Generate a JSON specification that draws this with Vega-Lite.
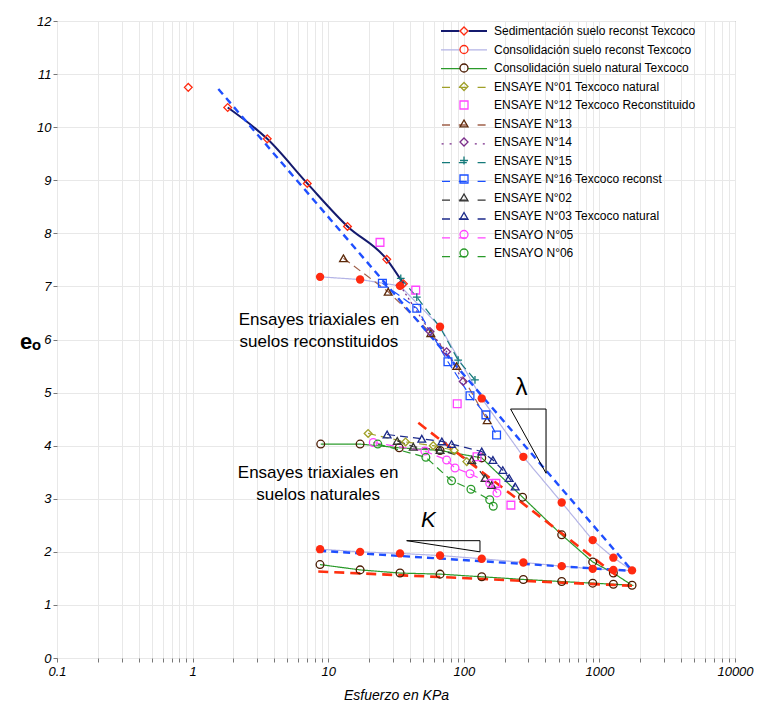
{
  "$schema": "https://vega.github.io/schema/vega-lite/v6.json",
  "width": 678,
  "height": 637,
  "autosize": {"type": "none"},
  "padding": {"left": 57, "top": 21, "right": 22, "bottom": 48},
  "config": {
    "font": "Liberation Sans",
    "view": {"stroke": "#7a7a7a", "strokeWidth": 1},
    "axis": {"labelFont": "Liberation Sans", "titleFont": "Liberation Sans", "labelColor": "#000", "titleColor": "#000"},
    "legend": {"labelFont": "Liberation Sans"}
  },
  "datasets": {
    "obs": [
      {"s": "Sedimentación suelo reconst Texcoco", "n": 1, "x": 0.929, "y": 10.75},
      {"s": "Sedimentación suelo reconst Texcoco", "n": 2, "x": 1.815, "y": 10.37},
      {"s": "Sedimentación suelo reconst Texcoco", "n": 3, "x": 3.551, "y": 9.78},
      {"s": "Sedimentación suelo reconst Texcoco", "n": 4, "x": 7.01, "y": 8.94},
      {"s": "Sedimentación suelo reconst Texcoco", "n": 5, "x": 13.88, "y": 8.13},
      {"s": "Sedimentación suelo reconst Texcoco", "n": 6, "x": 27.02, "y": 7.51},
      {"s": "Sedimentación suelo reconst Texcoco", "n": 7, "x": 35.86, "y": 7.05},
      {"s": "Consolidación suelo reconst Texcoco", "n": 1, "x": 8.71, "y": 7.18},
      {"s": "Consolidación suelo reconst Texcoco", "n": 2, "x": 17.19, "y": 7.13},
      {"s": "Consolidación suelo reconst Texcoco", "n": 3, "x": 33.86, "y": 7.01},
      {"s": "Consolidación suelo reconst Texcoco", "n": 4, "x": 66.8, "y": 6.24},
      {"s": "Consolidación suelo reconst Texcoco", "n": 5, "x": 135.6, "y": 4.89},
      {"s": "Consolidación suelo reconst Texcoco", "n": 6, "x": 274.9, "y": 3.79},
      {"s": "Consolidación suelo reconst Texcoco", "n": 7, "x": 527.2, "y": 2.93},
      {"s": "Consolidación suelo reconst Texcoco", "n": 8, "x": 892.6, "y": 2.22},
      {"s": "Consolidación suelo reconst Texcoco", "n": 9, "x": 1268, "y": 1.89},
      {"s": "Consolidación suelo reconst Texcoco", "n": 10, "x": 1741, "y": 1.65},
      {"s": "Consolidación suelo reconst Texcoco", "n": 11, "x": 1268, "y": 1.66},
      {"s": "Consolidación suelo reconst Texcoco", "n": 12, "x": 892.6, "y": 1.68},
      {"s": "Consolidación suelo reconst Texcoco", "n": 13, "x": 527.2, "y": 1.73},
      {"s": "Consolidación suelo reconst Texcoco", "n": 14, "x": 274.9, "y": 1.8},
      {"s": "Consolidación suelo reconst Texcoco", "n": 15, "x": 135.6, "y": 1.87},
      {"s": "Consolidación suelo reconst Texcoco", "n": 16, "x": 66.8, "y": 1.93},
      {"s": "Consolidación suelo reconst Texcoco", "n": 17, "x": 33.86, "y": 1.97},
      {"s": "Consolidación suelo reconst Texcoco", "n": 18, "x": 17.19, "y": 2.0},
      {"s": "Consolidación suelo reconst Texcoco", "n": 19, "x": 8.71, "y": 2.05},
      {"s": "Consolidación suelo natural Texcoco", "n": 1, "x": 8.81, "y": 4.03},
      {"s": "Consolidación suelo natural Texcoco", "n": 2, "x": 17.19, "y": 4.03},
      {"s": "Consolidación suelo natural Texcoco", "n": 3, "x": 33.4, "y": 3.96},
      {"s": "Consolidación suelo natural Texcoco", "n": 4, "x": 66.8, "y": 3.91},
      {"s": "Consolidación suelo natural Texcoco", "n": 5, "x": 135.6, "y": 3.77},
      {"s": "Consolidación suelo natural Texcoco", "n": 6, "x": 271.2, "y": 3.03},
      {"s": "Consolidación suelo natural Texcoco", "n": 7, "x": 527.2, "y": 2.32},
      {"s": "Consolidación suelo natural Texcoco", "n": 8, "x": 892.6, "y": 1.81},
      {"s": "Consolidación suelo natural Texcoco", "n": 9, "x": 1268, "y": 1.6},
      {"s": "Consolidación suelo natural Texcoco", "n": 10, "x": 1741, "y": 1.37},
      {"s": "Consolidación suelo natural Texcoco", "n": 11, "x": 1268, "y": 1.39},
      {"s": "Consolidación suelo natural Texcoco", "n": 12, "x": 892.6, "y": 1.41},
      {"s": "Consolidación suelo natural Texcoco", "n": 13, "x": 527.2, "y": 1.44},
      {"s": "Consolidación suelo natural Texcoco", "n": 14, "x": 274.9, "y": 1.48},
      {"s": "Consolidación suelo natural Texcoco", "n": 15, "x": 135.6, "y": 1.53},
      {"s": "Consolidación suelo natural Texcoco", "n": 16, "x": 66.8, "y": 1.58},
      {"s": "Consolidación suelo natural Texcoco", "n": 17, "x": 33.86, "y": 1.6},
      {"s": "Consolidación suelo natural Texcoco", "n": 18, "x": 17.19, "y": 1.66},
      {"s": "Consolidación suelo natural Texcoco", "n": 19, "x": 8.7, "y": 1.76},
      {"s": "ENSAYE N°01 Texcoco natural", "n": 1, "x": 19.69, "y": 4.23},
      {"s": "ENSAYE N°01 Texcoco natural", "n": 2, "x": 37.2, "y": 4.07},
      {"s": "ENSAYE N°01 Texcoco natural", "n": 3, "x": 59.5, "y": 4.0},
      {"s": "ENSAYE N°01 Texcoco natural", "n": 4, "x": 85.1, "y": 3.91},
      {"s": "ENSAYE N°01 Texcoco natural", "n": 5, "x": 105.2, "y": 3.7},
      {"s": "ENSAYE N°12 Texcoco Reconstituido", "n": 1, "x": 24.1, "y": 7.83},
      {"s": "ENSAYE N°12 Texcoco Reconstituido", "n": 2, "x": 44.2, "y": 6.93},
      {"s": "ENSAYE N°12 Texcoco Reconstituido", "n": 3, "x": 89.4, "y": 4.79},
      {"s": "ENSAYE N°12 Texcoco Reconstituido", "n": 4, "x": 125.2, "y": 3.79},
      {"s": "ENSAYE N°12 Texcoco Reconstituido", "n": 5, "x": 172.4, "y": 3.29},
      {"s": "ENSAYE N°12 Texcoco Reconstituido", "n": 6, "x": 222.5, "y": 2.88},
      {"s": "ENSAYE N°13", "n": 1, "x": 12.96, "y": 7.53},
      {"s": "ENSAYE N°13", "n": 2, "x": 27.7, "y": 6.9},
      {"s": "ENSAYE N°13", "n": 3, "x": 57.1, "y": 6.12},
      {"s": "ENSAYE N°13", "n": 4, "x": 88.7, "y": 5.5},
      {"s": "ENSAYE N°13", "n": 5, "x": 148.8, "y": 4.48},
      {"s": "ENSAYE N°14", "n": 1, "x": 33.86, "y": 7.02},
      {"s": "ENSAYE N°14", "n": 2, "x": 56.3, "y": 6.15},
      {"s": "ENSAYE N°14", "n": 3, "x": 74.7, "y": 5.77},
      {"s": "ENSAYE N°14", "n": 4, "x": 99.0, "y": 5.21},
      {"s": "ENSAYE N°15", "n": 1, "x": 34.3, "y": 7.15},
      {"s": "ENSAYE N°15", "n": 2, "x": 45.0, "y": 6.8},
      {"s": "ENSAYE N°15", "n": 3, "x": 66.8, "y": 6.23},
      {"s": "ENSAYE N°15", "n": 4, "x": 90.9, "y": 5.61},
      {"s": "ENSAYE N°15", "n": 5, "x": 120.9, "y": 5.24},
      {"s": "ENSAYE N°16 Texcoco reconst", "n": 1, "x": 25.1, "y": 7.06},
      {"s": "ENSAYE N°16 Texcoco reconst", "n": 2, "x": 45.0, "y": 6.59},
      {"s": "ENSAYE N°16 Texcoco reconst", "n": 3, "x": 76.4, "y": 5.58},
      {"s": "ENSAYE N°16 Texcoco reconst", "n": 4, "x": 111.1, "y": 4.94},
      {"s": "ENSAYE N°16 Texcoco reconst", "n": 5, "x": 145.6, "y": 4.58},
      {"s": "ENSAYE N°16 Texcoco reconst", "n": 6, "x": 174.5, "y": 4.2},
      {"s": "ENSAYE N°02", "n": 1, "x": 32.3, "y": 4.09},
      {"s": "ENSAYE N°02", "n": 2, "x": 42.4, "y": 3.98},
      {"s": "ENSAYE N°02", "n": 3, "x": 66.8, "y": 3.92},
      {"s": "ENSAYE N°02", "n": 4, "x": 114.4, "y": 3.73},
      {"s": "ENSAYE N°02", "n": 5, "x": 143.4, "y": 3.39},
      {"s": "ENSAYE N°02", "n": 6, "x": 160.7, "y": 3.26},
      {"s": "ENSAYE N°03 Texcoco natural", "n": 1, "x": 27.2, "y": 4.21},
      {"s": "ENSAYE N°03 Texcoco natural", "n": 2, "x": 49.0, "y": 4.13},
      {"s": "ENSAYE N°03 Texcoco natural", "n": 3, "x": 68.9, "y": 4.08},
      {"s": "ENSAYE N°03 Texcoco natural", "n": 4, "x": 81.2, "y": 4.03},
      {"s": "ENSAYE N°03 Texcoco natural", "n": 5, "x": 135.6, "y": 3.89},
      {"s": "ENSAYE N°03 Texcoco natural", "n": 6, "x": 163.9, "y": 3.73},
      {"s": "ENSAYE N°03 Texcoco natural", "n": 7, "x": 193.8, "y": 3.54},
      {"s": "ENSAYE N°03 Texcoco natural", "n": 8, "x": 216.1, "y": 3.39},
      {"s": "ENSAYE N°03 Texcoco natural", "n": 9, "x": 239.4, "y": 3.23},
      {"s": "ENSAYO N°05", "n": 1, "x": 21.5, "y": 4.06},
      {"s": "ENSAYO N°05", "n": 2, "x": 51.6, "y": 3.9},
      {"s": "ENSAYO N°05", "n": 3, "x": 74.7, "y": 3.73},
      {"s": "ENSAYO N°05", "n": 4, "x": 86.1, "y": 3.58},
      {"s": "ENSAYO N°05", "n": 5, "x": 111.1, "y": 3.47},
      {"s": "ENSAYO N°05", "n": 6, "x": 155.3, "y": 3.29},
      {"s": "ENSAYO N°05", "n": 7, "x": 175.6, "y": 3.11},
      {"s": "ENSAYO N°06", "n": 1, "x": 23.2, "y": 4.03},
      {"s": "ENSAYO N°06", "n": 2, "x": 52.5, "y": 3.78},
      {"s": "ENSAYO N°06", "n": 3, "x": 81.2, "y": 3.34},
      {"s": "ENSAYO N°06", "n": 4, "x": 112.9, "y": 3.18},
      {"s": "ENSAYO N°06", "n": 5, "x": 155.3, "y": 2.98},
      {"s": "ENSAYO N°06", "n": 6, "x": 164.9, "y": 2.86}
    ],
    "fit": [
      {"c": "b", "g": "l", "x": 1.548, "y": 10.72},
      {"c": "b", "g": "l", "x": 1763, "y": 1.63},
      {"c": "b", "g": "k", "x": 8.58, "y": 2.02},
      {"c": "b", "g": "k", "x": 1763, "y": 1.64},
      {"c": "r", "g": "l", "x": 46.2, "y": 4.43},
      {"c": "r", "g": "l", "x": 1340, "y": 1.55},
      {"c": "r", "g": "k", "x": 8.45, "y": 1.63},
      {"c": "r", "g": "k", "x": 1741, "y": 1.36}
    ],
    "tri": [
      {"g": "l", "n": 1, "x": 221.4, "y": 4.69},
      {"g": "l", "n": 2, "x": 404.2, "y": 4.69},
      {"g": "l", "n": 3, "x": 404.2, "y": 3.48},
      {"g": "l", "n": 4, "x": 221.4, "y": 4.69},
      {"g": "k", "n": 1, "x": 37.9, "y": 2.21},
      {"g": "k", "n": 2, "x": 131.6, "y": 2.21},
      {"g": "k", "n": 3, "x": 131.6, "y": 2.0},
      {"g": "k", "n": 4, "x": 37.9, "y": 2.21}
    ],
    "txt": [
      {"t": "Ensayes triaxiales en", "x": 8.55, "y": 6.37},
      {"t": "suelos reconstituidos", "x": 8.55, "y": 5.95},
      {"t": "Ensayes triaxiales en", "x": 8.43, "y": 3.49},
      {"t": "suelos naturales", "x": 8.43, "y": 3.07}
    ]
  },
  "encoding": {
    "x": {
      "field": "x", "type": "quantitative",
      "scale": {"type": "log", "domain": [0.1, 10000]},
      "axis": {
        "title": "Esfuerzo en KPa",
        "values": [0.1,0.2,0.3,0.4,0.5,0.6,0.7,0.8,0.9,1,2,3,4,5,6,7,8,9,10,20,30,40,50,60,70,80,90,100,200,300,400,500,600,700,800,900,1000,2000,3000,4000,5000,6000,7000,8000,9000,10000],
        "labelExpr": "indexof([0.1,1,10,100,1000,10000], datum.value) >= 0 ? format(datum.value, '~g') : ''",
        "labelOverlap": false, "labelFlush": false,
        "grid": true, "gridColor": "#e8e8e8", "domain": false,
        "tickSize": 4, "tickColor": "#777",
        "encode": {"ticks": {"update": {"opacity": {"signal": "indexof([0.1,1,10,100,1000,10000], datum.value) >= 0 ? 1 : 0"}}}},
        "labelFontStyle": "italic", "labelFontSize": 13, "labelPadding": 3,
        "titleFontStyle": "italic", "titleFontWeight": "normal", "titleFontSize": 14, "titlePadding": 10
      }
    },
    "y": {
      "field": "y", "type": "quantitative",
      "scale": {"domain": [0, 12]},
      "axis": {
        "title": "eₒ",
        "values": [0,1,2,3,4,5,6,7,8,9,10,11,12],
        "grid": true, "gridColor": "#e8e8e8", "domain": false,
        "tickSize": 4, "tickColor": "#777",
        "labelFontStyle": "italic", "labelFontSize": 13, "labelPadding": 2,
        "titleAngle": 0, "titleFontSize": 22, "titleFontWeight": "bold",
        "titleX": -27, "titleY": 320, "titleAlign": "center", "titleBaseline": "middle"
      }
    }
  },
  "layer": [
    {
      "data": {"name": "obs"},
      "transform": [{"filter": "datum.s !== 'ENSAYE N°12 Texcoco Reconstituido' && datum.s !== 'Sedimentación suelo reconst Texcoco'"}],
      "mark": {"type": "line", "strokeWidth": 1.2},
      "encoding": {
        "order": {"field": "n", "type": "quantitative"},
        "stroke": {
          "field": "s", "type": "nominal",
          "scale": {
            "domain": ["Sedimentación suelo reconst Texcoco","Consolidación suelo reconst Texcoco","Consolidación suelo natural Texcoco","ENSAYE N°01 Texcoco natural","ENSAYE N°12 Texcoco Reconstituido","ENSAYE N°13","ENSAYE N°14","ENSAYE N°15","ENSAYE N°16 Texcoco reconst","ENSAYE N°02","ENSAYE N°03 Texcoco natural","ENSAYO N°05","ENSAYO N°06"," "],
            "range": ["#141a6e","#b4b4e6","#2a9a2a","#a0a028","transparent","#a0604a","#7a2d8a","#147a7a","#1a4fff","#333333","#1c2a8a","#ff44ff","#2a9a2a","transparent"]
          },
          "legend": {
            "orient": "none", "legendX": 401, "legendY": 4, "title": null, "padding": 0,
            "symbolSize": 64, "symbolStrokeWidth": 1.3, "symbolOffset": 0,
            "labelFontSize": 12, "labelOffset": 24, "labelLimit": 0, "rowPadding": 6.8, "labelOpacity": 0,
            "encode": {"symbols": {"update": {
              "shape": {"signal": "datum.value === 'Sedimentación suelo reconst Texcoco' ? 'M-5.75,0H-1.15M1.15,0H5.75' : indexof(['Consolidación suelo reconst Texcoco','Consolidación suelo natural Texcoco'], datum.value) >= 0 ? 'M-5.75,0H-1M1,0H5.75' : datum.value === 'ENSAYE N°14' ? 'M-5.6,0H-4.7M-3.6,0H-2.7M2.7,0H3.6M4.7,0H5.6' : 'M-5.5,0H-3.2M3.4,0H6M-1.3,0H1.3'"},
              "size": {"value": 64},
              "strokeWidth": {"signal": "datum.value === 'Sedimentación suelo reconst Texcoco' ? 2 : 1.3"},
              "strokeDash": {"value": [1, 0]}
            }}}
          }
        },
        "strokeDash": {
          "field": "s", "type": "nominal",
          "scale": {
            "domain": ["Sedimentación suelo reconst Texcoco","Consolidación suelo reconst Texcoco","Consolidación suelo natural Texcoco","ENSAYE N°01 Texcoco natural","ENSAYE N°12 Texcoco Reconstituido","ENSAYE N°13","ENSAYE N°14","ENSAYE N°15","ENSAYE N°16 Texcoco reconst","ENSAYE N°02","ENSAYE N°03 Texcoco natural","ENSAYO N°05","ENSAYO N°06"," "],
            "range": [[1,0],[1,0],[1,0],[8,5],[1,0],[8,5],[2,3],[8,5],[8,5],[8,5],[8,5],[8,5],[8,5],[1,0]]
          },
          "legend": null
        }
      }
    },
    {
      "data": {"name": "obs"},
      "transform": [{"filter": "datum.s === 'Sedimentación suelo reconst Texcoco' && datum.x > 1"}],
      "mark": {"type": "line", "color": "#141a6e", "strokeWidth": 2, "interpolate": "monotone"},
      "encoding": {"order": {"field": "n", "type": "quantitative"}}
    },
    {
      "data": {"name": "fit"},
      "transform": [{"filter": "datum.c === 'b'"}],
      "mark": {"type": "line", "color": "#1f4fff", "strokeWidth": 2.4, "strokeDash": [7, 5]},
      "encoding": {"detail": {"field": "g", "type": "nominal"}}
    },
    {
      "data": {"name": "fit"},
      "transform": [{"filter": "datum.c === 'r'"}],
      "mark": {"type": "line", "color": "#ff3010", "strokeWidth": 2.6, "strokeDash": [10, 6]},
      "encoding": {"detail": {"field": "g", "type": "nominal"}}
    },
    {
      "data": {"name": "obs"},
      "transform": [{"filter": "datum.s !== 'Consolidación suelo reconst Texcoco'"}],
      "mark": {"type": "point", "filled": false, "opacity": 1, "strokeWidth": 1.3, "size": 60},
      "encoding": {
        "color": {
          "field": "s", "type": "nominal",
          "scale": {
            "domain": ["Sedimentación suelo reconst Texcoco","Consolidación suelo reconst Texcoco","Consolidación suelo natural Texcoco","ENSAYE N°01 Texcoco natural","ENSAYE N°12 Texcoco Reconstituido","ENSAYE N°13","ENSAYE N°14","ENSAYE N°15","ENSAYE N°16 Texcoco reconst","ENSAYE N°02","ENSAYE N°03 Texcoco natural","ENSAYO N°05","ENSAYO N°06"],
            "range": ["#ff2a10","#ff2a10","#4a1a00","#a0a028","#ff44ff","#5c2a0a","#7a2d8a","#147a7a","#1a4fff","#333333","#1c2a8a","#ff44ff","#2a9a2a"]
          },
          "legend": {
            "orient": "none", "legendX": 401, "legendY": 4, "title": null, "padding": 0,
            "symbolSize": 64, "symbolStrokeWidth": 1.3, "symbolOffset": 0,
            "labelFontSize": 12, "labelOffset": 24, "labelLimit": 0, "rowPadding": 4.5, "labelColor": "#000",
            "encode": {"symbols": {"update": {
              "fill": {"signal": "datum.value === 'Consolidación suelo reconst Texcoco' ? '#ff2a10' : (datum.value === 'Sedimentación suelo reconst Texcoco' || datum.value === 'Consolidación suelo natural Texcoco') ? 'white' : 'transparent'"},
              "opacity": {"value": 1}
            }}}
          }
        },
        "shape": {
          "field": "s", "type": "nominal",
          "scale": {
            "domain": ["Sedimentación suelo reconst Texcoco","Consolidación suelo reconst Texcoco","Consolidación suelo natural Texcoco","ENSAYE N°01 Texcoco natural","ENSAYE N°12 Texcoco Reconstituido","ENSAYE N°13","ENSAYE N°14","ENSAYE N°15","ENSAYE N°16 Texcoco reconst","ENSAYE N°02","ENSAYE N°03 Texcoco natural","ENSAYO N°05","ENSAYO N°06"],
            "range": ["diamond","circle","circle","diamond","square","triangle-up","diamond","M-1,0H1M0,-1V1","square","triangle-up","triangle-up","circle","circle"]
          },
          "legend": {
            "orient": "none", "legendX": 401, "legendY": 4, "title": null, "padding": 0,
            "symbolSize": 64, "symbolStrokeWidth": 1.3, "symbolOffset": 0,
            "labelFontSize": 12, "labelOffset": 24, "labelLimit": 0, "rowPadding": 4.5, "labelColor": "#000",
            "encode": {"symbols": {"update": {
              "fill": {"signal": "datum.value === 'Consolidación suelo reconst Texcoco' ? '#ff2a10' : (datum.value === 'Sedimentación suelo reconst Texcoco' || datum.value === 'Consolidación suelo natural Texcoco') ? 'white' : 'transparent'"},
              "opacity": {"value": 1}
            }}}
          }
        }
      }
    },
    {
      "data": {"name": "obs"},
      "transform": [{"filter": "datum.s === 'Consolidación suelo reconst Texcoco'"}],
      "mark": {"type": "circle", "color": "#ff2a10", "opacity": 1, "size": 70}
    },
    {
      "data": {"name": "tri"},
      "mark": {"type": "line", "color": "#000", "strokeWidth": 1},
      "encoding": {"detail": {"field": "g", "type": "nominal"}, "order": {"field": "n", "type": "quantitative"}}
    },
    {
      "data": {"name": "txt"},
      "mark": {"type": "text", "fontSize": 17, "color": "#000", "align": "center", "baseline": "middle"},
      "encoding": {"text": {"field": "t"}}
    },
    {
      "data": {"values": [{"t": "λ", "x": 266.9, "y": 5.08}]},
      "mark": {"type": "text", "fontSize": 24, "color": "#000", "align": "center", "baseline": "middle"},
      "encoding": {"text": {"field": "t"}}
    },
    {
      "data": {"values": [{"t": "K", "x": 54.7, "y": 2.6}]},
      "mark": {"type": "text", "fontSize": 22, "fontStyle": "italic", "color": "#000", "align": "center", "baseline": "middle"},
      "encoding": {"text": {"field": "t"}}
    }
  ]
}
